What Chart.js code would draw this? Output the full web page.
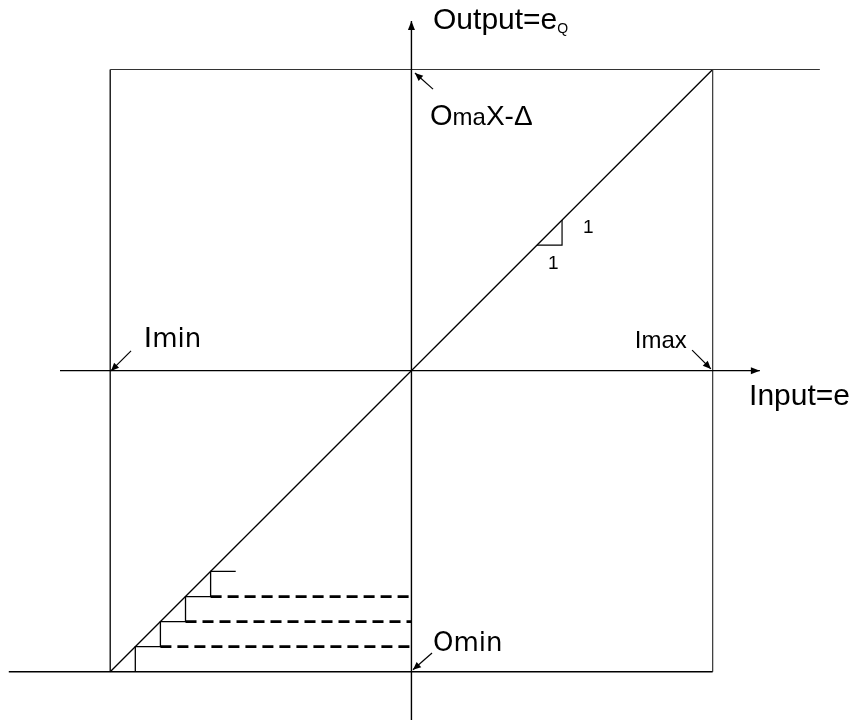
<!DOCTYPE html>
<html>
<head>
<meta charset="utf-8">
<script src="https://cdn.jsdelivr.net/npm/chart.js@4/dist/chart.umd.min.js"></script>
<style>
  html, body { margin: 0; padding: 0; background: #fff; }
  #wrap { width: 854px; height: 720px; }
</style>
</head>
<body>
<div id="wrap"><canvas id="quant"></canvas></div>
<script>
// Quantizer transfer characteristic, drawn in "step" units (1 step = Δ)
const xRange = [-16.39, 17.63];
const yRange = [-13.92, 14.77];

// limits of the quantizer
const iMin = -12, iMax = 12, oMin = -12, oMax = 12;

// axes (start, end) -- end carries the arrow
const xAxisLine = [[-14, 0], [13.88, 0]];
const yAxisLine = [[0, -14.5], [0, 13.93]];

// outer frame lines
const topLine = [[iMin, oMax], [16.27, oMax]];
const bottomLine = [[-16.04, oMin], [iMax, oMin]];
const leftSide = [[iMin, oMin], [iMin, oMax]];
const rightSide = [[iMax, oMin], [iMax, oMax]];

// ideal line and the staircase near Omin
const diagonal = [[iMin, oMin], [iMax, oMax]];
const stairs = [[-11, -12], [-11, -11], [-10, -11], [-10, -10], [-9, -10], [-9, -9], [-8, -9], [-8, -8], [-7, -8]];
const levelY = [-11, -10, -9];
const levelFrom = [-10, -9, -8];
const slopeTri = [[5, 5], [6, 5], [6, 6]];

// pointer arrows (from, to)
const pointers = [
  [[-11.17, 0.79], [-11.97, -0.01]],
  [[11.18, 0.82], [11.93, 0.07]],
  [[0.82, -11.25], [0.06, -11.92]],
  [[0.86, 11.22], [0.14, 11.86]],
];

// labels: [pieces, x, y]  pieces = [text, size, family, dy]
const sans = '"Liberation Sans", Arial, sans-serif';
const gill = '"DejaVu Sans", sans-serif';
const labels = [
  [[['Output=e', 30, sans, 0], ['Q', 14, sans, 4]], 0.86, 13.61],
  [[['O', 29, sans, 0], ['ma', 24, sans, 0], ['X-Δ', 28, sans, 0]], 0.74, 9.79],
  [[['1', 19, sans, 0]], 6.83, 5.49],
  [[['1', 19, sans, 0]], 5.44, 4.05],
  [[['I', 30, sans, 0], ['min', 26, gill, 0]], -10.66, 0.94],
  [[['Imax', 24, sans, 0]], 8.9, 0.9],
  [[['Input=e', 30, sans, 0]], 13.45, -1.37],
  [[['Omin', 26, gill, 0]], 0.86, -11.17],
];

const pts = arr => arr.map(([x, y]) => ({ x, y }));

function line(data, width, extra) {
  return Object.assign({
    data: pts(data),
    showLine: true,
    borderColor: '#000',
    borderWidth: width,
    pointRadius: 0,
    fill: false,
    tension: 0,
  }, extra || {});
}

const datasets = [
  line(xAxisLine, 1.4),
  line(yAxisLine, 1.4),
  line(topLine, 1.2, { borderColor: '#333' }),
  line(bottomLine, 1.4),
  line(leftSide, 1.3),
  line(rightSide, 1.2, { borderColor: '#333' }),
  line(diagonal, 1.3),
  line(stairs, 1.3),
  line(slopeTri, 1.2),
];
levelY.forEach((y, i) => {
  datasets.push(line([[levelFrom[i], y], [0, y]], 2.8, { borderDash: [11, 6] }));
});
pointers.forEach(p => datasets.push(line(p, 1.2)));

function arrowHead(ctx, x0, y0, x1, y1, len, half) {
  const a = Math.atan2(y1 - y0, x1 - x0);
  ctx.beginPath();
  ctx.moveTo(x1, y1);
  ctx.lineTo(x1 - len * Math.cos(a) + half * Math.sin(a), y1 - len * Math.sin(a) - half * Math.cos(a));
  ctx.lineTo(x1 - len * Math.cos(a) - half * Math.sin(a), y1 - len * Math.sin(a) + half * Math.cos(a));
  ctx.closePath();
  ctx.fill();
}

const decor = {
  id: 'decor',
  afterDatasetsDraw(chart) {
    const { ctx, scales: { x, y } } = chart;
    const px = v => x.getPixelForValue(v);
    const py = v => y.getPixelForValue(v);
    ctx.save();
    ctx.fillStyle = '#000';
    // arrow heads
    [xAxisLine, yAxisLine].forEach(([a, b]) =>
      arrowHead(ctx, px(a[0]), py(a[1]), px(b[0]), py(b[1]), 9, 3.5));
    pointers.forEach(([a, b]) =>
      arrowHead(ctx, px(a[0]), py(a[1]), px(b[0]), py(b[1]), 8, 3.5));
    // text
    ctx.textBaseline = 'alphabetic';
    ctx.textAlign = 'left';
    labels.forEach(([pieces, lx, ly]) => {
      let cx = px(lx);
      const cy = py(ly);
      pieces.forEach(([t, size, fam, dy]) => {
        ctx.font = size + 'px ' + fam;
        ctx.fillText(t, cx, cy + dy);
        cx += ctx.measureText(t).width;
      });
    });
    ctx.restore();
  }
};

new Chart(document.getElementById('quant'), {
  type: 'scatter',
  data: { datasets },
  options: {
    responsive: true,
    maintainAspectRatio: false,
    animation: false,
    layout: { padding: 0 },
    plugins: { legend: { display: false }, tooltip: { enabled: false } },
    scales: {
      x: { type: 'linear', min: xRange[0], max: xRange[1], display: false },
      y: { type: 'linear', min: yRange[0], max: yRange[1], display: false },
    },
  },
  plugins: [decor],
});
</script>
</body>
</html>
